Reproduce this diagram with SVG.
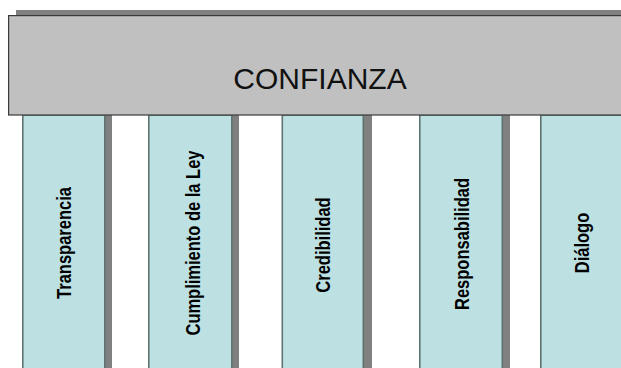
<svg xmlns="http://www.w3.org/2000/svg" width="621" height="368" viewBox="0 0 621 368">
  <style>
    .shadow { fill: #808080; }
    .beam { fill: #c0c0c0; stroke: #3a3a3a; stroke-width: 1.2; }
    .pillar { fill: #bde0e3; stroke: #5f7373; stroke-width: 1.6; }
    .title { font-family: "Liberation Sans", Arial, sans-serif; font-size: 30px; fill: #111; }
    .label { font-family: "Liberation Sans", Arial, sans-serif; font-size: 16.5px; font-weight: bold; fill: #000; }
  </style>
  <rect width="621" height="368" fill="#ffffff"/>

  <!-- pillars with their drop shadows; labels run bottom to top -->
  <g id="pillar-transparencia">
    <rect class="shadow" x="28" y="115" width="84" height="260"/>
    <rect class="pillar" x="22.8" y="115" width="82" height="260"/>
    <text class="label" transform="translate(70.5,243) rotate(-90) scale(1,1.18)" text-anchor="middle">Transparencia</text>
  </g>
  <g id="pillar-ley">
    <rect class="shadow" x="154" y="115" width="85" height="260"/>
    <rect class="pillar" x="148.8" y="115" width="83" height="260"/>
    <text class="label" transform="translate(200,243) rotate(-90) scale(1,1.18)" text-anchor="middle">Cumplimiento de la Ley</text>
  </g>
  <g id="pillar-credibilidad">
    <rect class="shadow" x="288" y="115" width="84" height="260"/>
    <rect class="pillar" x="282.3" y="115" width="81" height="260"/>
    <text class="label" transform="translate(329.5,245) rotate(-90) scale(1,1.18)" text-anchor="middle">Credibilidad</text>
  </g>
  <g id="pillar-responsabilidad">
    <rect class="shadow" x="425" y="115" width="85" height="260"/>
    <rect class="pillar" x="419.8" y="115" width="82.5" height="260"/>
    <text class="label" transform="translate(468.5,244) rotate(-90) scale(1,1.18)" text-anchor="middle">Responsabilidad</text>
  </g>
  <g id="pillar-dialogo">
    <rect class="pillar" x="540.8" y="115" width="90" height="260"/>
    <text class="label" transform="translate(588.5,243) rotate(-90) scale(1,1.18)" text-anchor="middle">Diálogo</text>
  </g>

  <!-- roof beam -->
  <g id="beam-confianza">
    <rect class="shadow" x="16" y="10" width="610" height="10"/>
    <rect class="beam" x="8.6" y="15.6" width="620" height="99.4"/>
    <text class="title" x="320" y="89" text-anchor="middle">CONFIANZA</text>
  </g>

  <g id="connectors"/>
</svg>
